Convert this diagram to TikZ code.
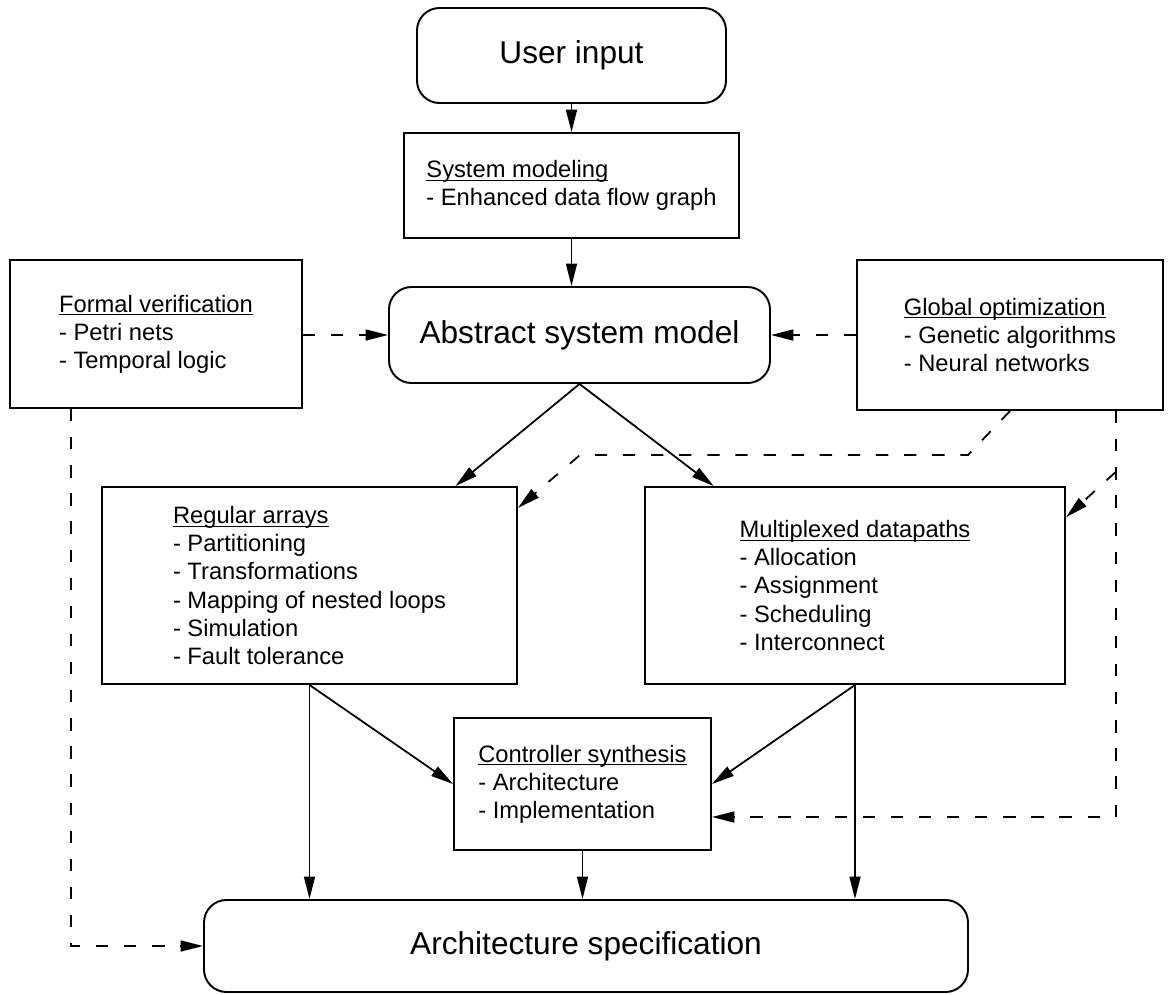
\documentclass[tikz,border=0pt]{standalone}
\usepackage{fontspec}
\setmainfont{Liberation Sans}
\usetikzlibrary{arrows.meta,calc}
% underline kept close to the baseline
\newcommand{\headline}[1]{\underline{\raisebox{0pt}[\height][0pt]{#1}}}

\begin{document}
\begin{tikzpicture}[
  box/.style={draw, line width=1.1pt, align=left, font=\fontsize{13.5}{16}\selectfont},
  rbox/.style={draw, line width=1.1pt, rounded corners=0.45cm, font=\fontsize{18}{21}\selectfont},
  flow/.style={line width=1pt, -{Triangle[length=4.5mm,width=2.2mm]}},
  ctrl/.style={flow, dash pattern=on 7pt off 9pt},
]
\useasboundingbox (0,0) rectangle (23.46,-19.88);
% main chain
\node[rbox, minimum width=6.18cm, minimum height=1.9cm] (userin) at (11.43,-1.11) {User input};
\node[box, minimum width=6.7cm, minimum height=2.1cm] (sysmod) at (11.43,-3.71)
  {\headline{System modeling}\\- Enhanced data flow graph};
\node[rbox, minimum width=7.62cm, minimum height=1.92cm] (asm) at (11.59,-6.7) {Abstract system model};
% side boxes
\node[box, minimum width=5.84cm, minimum height=2.96cm] (fv) at (3.12,-6.68)
  {\headline{Formal verification}\\- Petri nets\\- Temporal logic};
\node[box, minimum width=6.12cm, minimum height=3cm] (go) at (20.2,-6.7)
  {\headline{Global optimization}\\- Genetic algorithms\\- Neural networks};
% synthesis boxes
\node[box, minimum width=8.3cm, minimum height=3.94cm] (ra) at (6.19,-11.71)
  {\headline{Regular arrays}\\- Partitioning\\- Transformations\\- Mapping of nested loops\\- Simulation\\- Fault tolerance};
\node[box, minimum width=8.4cm, minimum height=3.94cm] (md) at (17.1,-11.71)
  {\headline{Multiplexed datapaths}\\- Allocation\\- Assignment\\- Scheduling\\- Interconnect};
\node[box, minimum width=5.14cm, minimum height=2.64cm] (cs) at (11.65,-15.68)
  {\headline{Controller synthesis}\\- Architecture\\- Implementation};
\node[rbox, minimum width=15.28cm, minimum height=1.84cm] (arch) at (11.72,-18.92) {Architecture specification};

% solid flow
\draw[flow] (userin.south) -- (sysmod.north);
\draw[flow] (sysmod.south) -- (sysmod.south |- asm.north);
\draw[flow] (asm.south) -- ($(ra.north west)!0.85!(ra.north east)$);
\draw[flow] (asm.south) -- ($(md.north west)!0.165!(md.north east)$);
\draw[flow] (ra.south) -- (cs.west);
\draw[flow] (md.south) -- (cs.east);
\draw[flow] (ra.south) -- (ra.south |- arch.north);
\draw[flow] (md.south) -- (md.south |- arch.north);
\draw[flow] (cs.south) -- (cs.south |- arch.north);

% dashed feedback
\draw[ctrl] (fv.east |- asm.west) -- (asm.west);
\draw[ctrl] (go.west |- asm.east) -- (asm.east);
\coordinate (fvdrop) at ($(fv.south west)!0.21!(fv.south east)$);
\draw[ctrl] (fvdrop) -- (fvdrop |- arch.west) -- (arch.west);
\draw[ctrl] (go.south) -- (19.36,-9.1) -- (11.6,-9.1) -- ($(ra.north east)!0.11!(ra.south east)$);
\coordinate (godrop) at ($(go.south west)!0.843!(go.south east)$);
\coordinate (gocorner) at (godrop |- 0,-16.34);
\coordinate (gotap) at (godrop |- 0,-9.44);
\draw[ctrl] (godrop) -- (gocorner) -- (gocorner -| cs.east);
\draw[ctrl] (gotap) -- ($(md.north east)!0.157!(md.south east)$);
\end{tikzpicture}
\end{document}
